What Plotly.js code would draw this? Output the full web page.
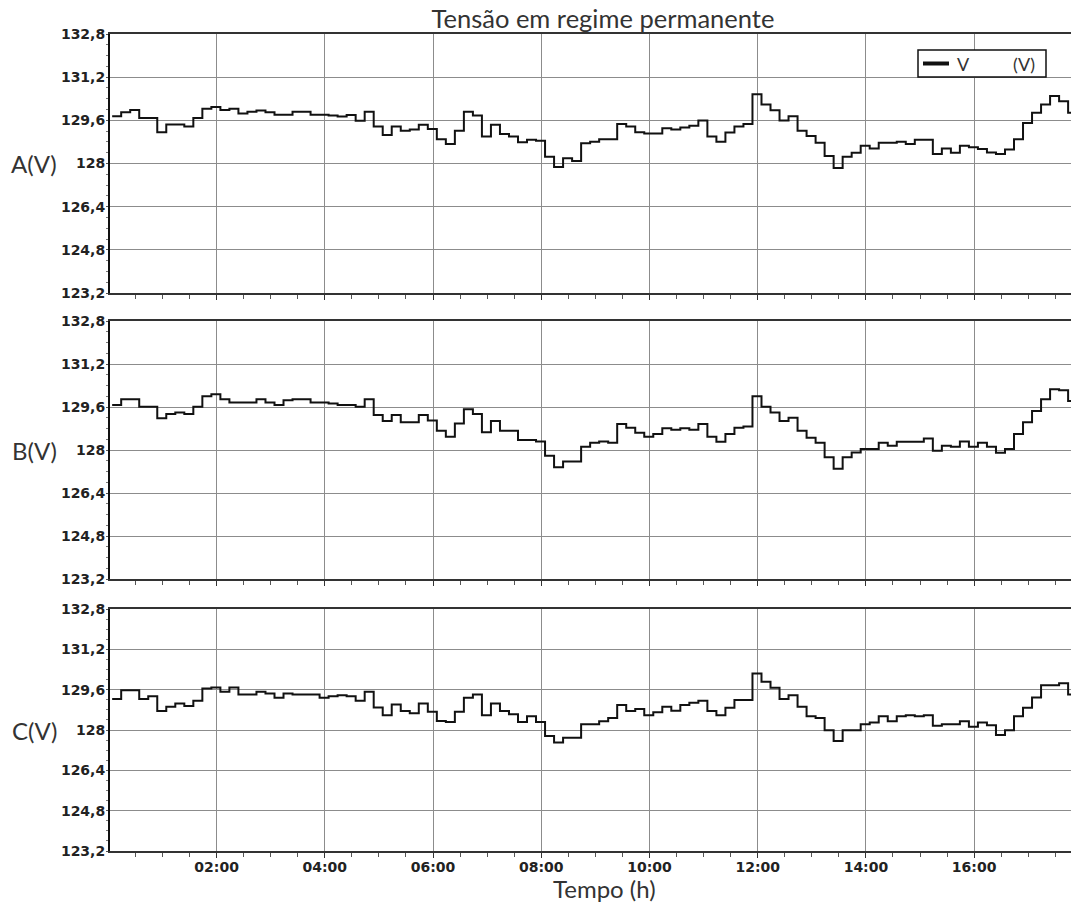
<!DOCTYPE html>
<html><head><meta charset="utf-8">
<script src="https://cdn.plot.ly/plotly-3.0.1.min.js"></script>
<style>html,body{margin:0;padding:0;background:#fff;} #chart{width:1071px;height:907px;}</style>
</head><body><div id="chart"></div>
<script>
// 10-minute voltage readings (V), one array per phase
const phaseA = [129.75,129.9,129.98,129.69,129.69,129.16,129.45,129.45,129.37,129.69,
130.03,130.09,129.98,130.03,129.85,129.92,129.96,129.9,129.81,129.81,
129.92,129.92,129.81,129.81,129.78,129.74,129.8,129.58,129.92,129.37,
129.06,129.37,129.21,129.26,129.44,129.28,128.9,128.72,129.21,129.92,
129.78,129.0,129.44,129.09,129.0,128.79,128.88,128.84,128.25,127.87,
128.19,128.09,128.75,128.81,128.9,128.9,129.46,129.37,129.16,129.11,
129.11,129.31,129.26,129.33,129.4,129.59,129.0,128.81,129.15,129.37,
129.46,130.57,130.19,129.97,129.59,129.75,129.21,129.02,128.77,128.28,
127.83,128.25,128.4,128.66,128.56,128.77,128.77,128.81,128.72,128.88,
128.88,128.35,128.56,128.4,128.66,128.6,128.54,128.41,128.35,128.52,
128.9,129.5,129.88,130.19,130.5,130.31,129.88,129.88];

const phaseB = [129.67,129.89,129.89,129.61,129.61,129.18,129.34,129.4,129.34,129.61,
130.0,130.07,129.89,129.77,129.77,129.77,129.89,129.77,129.67,129.85,
129.89,129.89,129.77,129.77,129.73,129.67,129.67,129.61,129.89,129.3,
129.08,129.3,129.03,129.03,129.3,129.1,128.72,128.49,128.99,129.52,
129.34,128.66,129.08,128.72,128.72,128.37,128.37,128.32,127.79,127.36,
127.57,127.57,128.12,128.27,128.32,128.27,128.97,128.83,128.64,128.49,
128.6,128.81,128.75,128.81,128.75,128.97,128.49,128.31,128.6,128.83,
128.87,130.0,129.61,129.4,129.08,129.2,128.72,128.46,128.27,127.73,
127.3,127.73,127.91,128.04,128.04,128.27,128.16,128.31,128.31,128.31,
128.43,127.97,128.16,128.12,128.32,128.12,128.27,128.12,127.9,128.04,
128.6,129.03,129.45,129.89,130.26,130.22,129.82,129.82];

const phaseC = [129.23,129.58,129.58,129.23,129.34,128.75,128.92,129.05,128.95,129.16,
129.65,129.69,129.52,129.69,129.41,129.41,129.52,129.45,129.28,129.45,
129.41,129.41,129.41,129.28,129.34,129.38,129.34,129.16,129.52,128.89,
128.59,129.01,128.75,128.66,129.05,128.72,128.36,128.32,128.72,129.28,
129.41,128.59,129.05,128.75,128.62,128.32,128.55,128.32,127.76,127.5,
127.69,127.69,128.23,128.23,128.35,128.48,128.99,128.75,128.83,128.59,
128.7,128.92,128.76,128.99,129.08,129.16,128.75,128.59,128.88,129.19,
129.19,130.24,129.91,129.68,129.23,129.38,128.92,128.55,128.48,127.99,
127.56,127.99,127.99,128.23,128.3,128.55,128.35,128.55,128.59,128.55,
128.59,128.17,128.23,128.23,128.35,128.13,128.3,128.19,127.8,127.99,
128.55,128.88,129.29,129.78,129.78,129.85,129.41,129.41];

const firstSampleHour = 0.07;      // first reading, hours after 00:00
const sampleStepHours = 10 / 60;   // 10-minute interval
const hourTicks = [2, 4, 6, 8, 10, 12, 14, 16];
const hourTickLabels = ["02:00", "04:00", "06:00", "08:00", "10:00", "12:00", "14:00", "16:00"];
const voltTicks = [123.2, 124.8, 126.4, 128, 129.6, 131.2, 132.8];
const voltTickLabels = ["123,2", "124,8", "126,4", "128", "129,6", "131,2", "132,8"];
const panelLabels = ["A(V)", "B(V)", "C(V)"];
const legendSymbol = "V";
const legendUnit = "(V)";
const chartTitle = "Tensão em regime permanente";
const xTitle = "Tempo (h)";

const times = phaseA.map((_, i) => firstSampleHour + i * sampleStepHours);
const series = [phaseA, phaseB, phaseC];

const W = 1071, H = 907, ML = 110;
const px = v => (v - ML) / (W - ML);   // pixel x -> paper x
const py = v => 1 - v / H;             // pixel y -> paper y

const domains = [[py(293), py(34)], [py(579), py(321)], [py(851), py(609)]];
const gridCol = '#8c8c8c';
const tickFont = {family: 'DejaVu Sans', size: 14, color: '#222', weight: 'bold'};
const labelFont = {family: 'Lato', size: 24, color: '#333'};

const traces = series.map((vals, k) => ({
  x: times, y: vals, type: 'scatter', mode: 'lines',
  line: {shape: 'hv', color: '#111', width: 2},
  name: panelLabels[k], showlegend: false,
  xaxis: k === 0 ? 'x' : 'x' + (k + 1),
  yaxis: k === 0 ? 'y' : 'y' + (k + 1),
  hoverinfo: 'x+y'
}));

const layout = {
  width: W, height: H,
  margin: {l: ML, r: 0, t: 0, b: 0, pad: 0},
  paper_bgcolor: '#fff', plot_bgcolor: '#fff',
  title: {text: chartTitle, x: 603 / W, xref: 'container', xanchor: 'center',
          y: 1 - 19 / H, yref: 'container', yanchor: 'middle',
          font: {family: 'Lato', size: 25.5, color: '#333'}},
  showlegend: false,
  annotations: [],
  shapes: [
    // legend box
    {type: 'rect', xref: 'paper', yref: 'paper', x0: px(918), x1: px(1046), y0: py(77), y1: py(50),
     line: {color: '#111', width: 1.5}, fillcolor: '#fff', layer: 'above'},
    // legend line sample
    {type: 'line', xref: 'paper', yref: 'paper', x0: px(923), x1: px(949), y0: py(63.5), y1: py(63.5),
     line: {color: '#111', width: 4}, layer: 'above'}
  ]
};

for (let k = 0; k < 3; k++) {
  const xn = k === 0 ? 'xaxis' : 'xaxis' + (k + 1);
  const yn = k === 0 ? 'yaxis' : 'yaxis' + (k + 1);
  const yid = k === 0 ? 'y' : 'y' + (k + 1);
  const xid = k === 0 ? 'x' : 'x' + (k + 1);
  layout[xn] = {
    domain: [0, 1], anchor: yid, range: [0.03, 17.79],
    tickmode: 'array', tickvals: hourTicks, ticktext: hourTickLabels,
    showticklabels: k === 2, tickfont: tickFont, ticklabelstandoff: -3,
    showgrid: true, gridcolor: gridCol, gridwidth: 1,
    showline: true, linecolor: '#333', linewidth: 2, mirror: true,
    ticks: 'outside', ticklen: 5, tickcolor: '#333', tickwidth: 1,
    minor: {tickmode: 'linear', tick0: 0, dtick: 0.5, ticks: 'outside', ticklen: 4, tickcolor: '#555', showgrid: false},
    zeroline: false, automargin: false, fixedrange: true
  };
  if (k > 0) layout[xn].matches = 'x';
  layout[yn] = {
    domain: domains[k], anchor: xid, range: [123.2, 132.8],
    tickmode: 'array', tickvals: voltTicks, ticktext: voltTickLabels,
    tickfont: tickFont, ticklabelstandoff: -2,
    showgrid: true, gridcolor: gridCol, gridwidth: 1,
    showline: true, linecolor: '#111', linewidth: 2,
    ticks: 'outside', ticklen: 2, tickcolor: '#555',
    minor: {tickmode: 'linear', tick0: 123.2, dtick: 0.4, ticks: 'outside', ticklen: 2, tickcolor: '#777', showgrid: false},
    zeroline: false, automargin: false, fixedrange: true
  };
  layout.annotations.push({
    text: panelLabels[k], xref: 'paper', x: px(34), xanchor: 'center',
    yref: yid + ' domain', y: 0.5, yanchor: 'middle',
    showarrow: false, font: labelFont
  });
}
layout.annotations.push({
  text: xTitle, xref: 'paper', x: px(604), xanchor: 'center',
  yref: 'paper', y: py(888), yanchor: 'middle',
  showarrow: false, font: labelFont
});
// legend text
layout.annotations.push({
  text: legendSymbol, xref: 'paper', x: px(955), xanchor: 'left',
  yref: 'paper', y: py(63.5), yanchor: 'middle',
  showarrow: false, font: {family: 'Lato', size: 18, color: '#333'}
});
layout.annotations.push({
  text: legendUnit, xref: 'paper', x: px(1037), xanchor: 'right',
  yref: 'paper', y: py(63.5), yanchor: 'middle',
  showarrow: false, font: {family: 'Lato', size: 18, color: '#333'}
});

Plotly.newPlot('chart', traces, layout, {displayModeBar: false, staticPlot: true});
</script>
</body></html>
